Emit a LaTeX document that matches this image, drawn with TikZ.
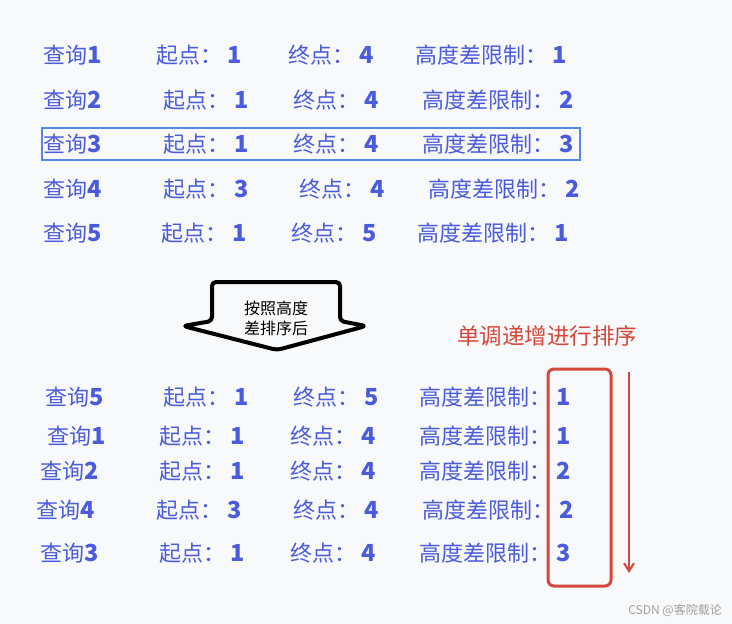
\documentclass[tikz,border=0pt]{standalone}
\usepackage{fontspec}
\usetikzlibrary{arrows.meta}
\setmainfont{Noto Sans CJK SC}
\definecolor{bg}{HTML}{F8F9FB}
\definecolor{qblue}{HTML}{4A5BDB}
\definecolor{boxblue}{HTML}{5B86E0}
\definecolor{qred}{HTML}{D5473B}
\definecolor{wm}{HTML}{A0A0A0}
\tikzset{
  lbl/.style={anchor=west, inner sep=0pt, text=qblue, font=\fontsize{22}{26}\selectfont},
  note/.style={inner sep=0pt, text=black, font=\fontsize{16}{20}\selectfont, align=center},
  rednote/.style={inner sep=0pt, text=qred, font=\fontsize{22.5}{26}\selectfont},
  redbox/.style={draw=qred, line width=3pt, rounded corners=6pt},
  bigarrow/.style={draw=black, line width=4pt, fill=bg, line join=round},
}
\newcommand{\dg}[1]{{\fontsize{23.5}{26}\selectfont\textbf{#1}}}
\newcommand{\cd}[1]{\hspace{5pt}\dg{#1}}
\begin{document}
\begin{tikzpicture}[x=1pt,y=-1pt]
\fill[bg] (0,0) rectangle (732,624);
\useasboundingbox (0,0) rectangle (732,624);

% top rows
\node[lbl] (t1a) at (43,55) {查询\dg{1}};
\node[lbl] (t1b) at (156,55) {起点：\cd{1}};
\node[lbl] (t1c) at (288,55) {终点：\cd{4}};
\node[lbl] (t1d) at (415,55) {高度差限制：\cd{1}};

\node[lbl] (t2a) at (43,100) {查询\dg{2}};
\node[lbl] (t2b) at (163,100) {起点：\cd{1}};
\node[lbl] (t2c) at (293,100) {终点：\cd{4}};
\node[lbl] (t2d) at (422,100) {高度差限制：\cd{2}};

\node[lbl] (t3a) at (43,144) {查询\dg{3}};
\node[lbl] (t3b) at (163,144) {起点：\cd{1}};
\node[lbl] (t3c) at (293,144) {终点：\cd{4}};
\node[lbl] (t3d) at (422,144) {高度差限制：\cd{3}};
\draw[boxblue, line width=1.2pt] (42,128) rectangle (580,160);

\node[lbl] (t4a) at (43,189) {查询\dg{4}};
\node[lbl] (t4b) at (163,189) {起点：\cd{3}};
\node[lbl] (t4c) at (299,189) {终点：\cd{4}};
\node[lbl] (t4d) at (428,189) {高度差限制：\cd{2}};

\node[lbl] (t5a) at (43,233) {查询\dg{5}};
\node[lbl] (t5b) at (161,233) {起点：\cd{1}};
\node[lbl] (t5c) at (291,233) {终点：\cd{5}};
\node[lbl] (t5d) at (417,233) {高度差限制：\cd{1}};

% big down arrow
\draw[bigarrow, rounded corners=4pt] (276,282) -- (340,282) -- (340,321)
  -- (366,326) -- (277,350) -- (183,326) -- (212,321)
  -- (212,282) -- cycle;
\node[note] (arrtxt) at (276,318) {按照高度\\差排序后};

\node[rednote] (mono) at (547,336) {单调递增进行排序};

% bottom rows
\node[lbl] (b1a) at (45,397) {查询\dg{5}};
\node[lbl] (b1b) at (163,397) {起点：\cd{1}};
\node[lbl] (b1c) at (293,397) {终点：\cd{5}};
\node[lbl] (b1d) at (419,397) {高度差限制：\cd{1}};

\node[lbl] (b2a) at (47,436) {查询\dg{1}};
\node[lbl] (b2b) at (159,436) {起点：\cd{1}};
\node[lbl] (b2c) at (290,436) {终点：\cd{4}};
\node[lbl] (b2d) at (419,436) {高度差限制：\cd{1}};

\node[lbl] (b3a) at (40,471) {查询\dg{2}};
\node[lbl] (b3b) at (159,471) {起点：\cd{1}};
\node[lbl] (b3c) at (290,471) {终点：\cd{4}};
\node[lbl] (b3d) at (419,471) {高度差限制：\cd{2}};

\node[lbl] (b4a) at (36,510) {查询\dg{4}};
\node[lbl] (b4b) at (156,510) {起点：\cd{3}};
\node[lbl] (b4c) at (293,510) {终点：\cd{4}};
\node[lbl] (b4d) at (422,510) {高度差限制：\cd{2}};

\node[lbl] (b5a) at (40,553) {查询\dg{3}};
\node[lbl] (b5b) at (159,553) {起点：\cd{1}};
\node[lbl] (b5c) at (290,553) {终点：\cd{4}};
\node[lbl] (b5d) at (419,553) {高度差限制：\cd{3}};

% red box and arrow
\draw[redbox] (548,369) rectangle (611,586);
\coordinate (ra) at (629,372);
\coordinate (rb) at (629,573);
\draw[qred, line width=2pt, -{Straight Barb[length=8pt,width=10pt]}] (ra) -- (rb);

\node[inner sep=0pt, anchor=east, text=wm, font=\fontsize{12}{14}\selectfont] (wmark) at (722,610) {CSDN @客院载论};
\end{tikzpicture}
\end{document}
